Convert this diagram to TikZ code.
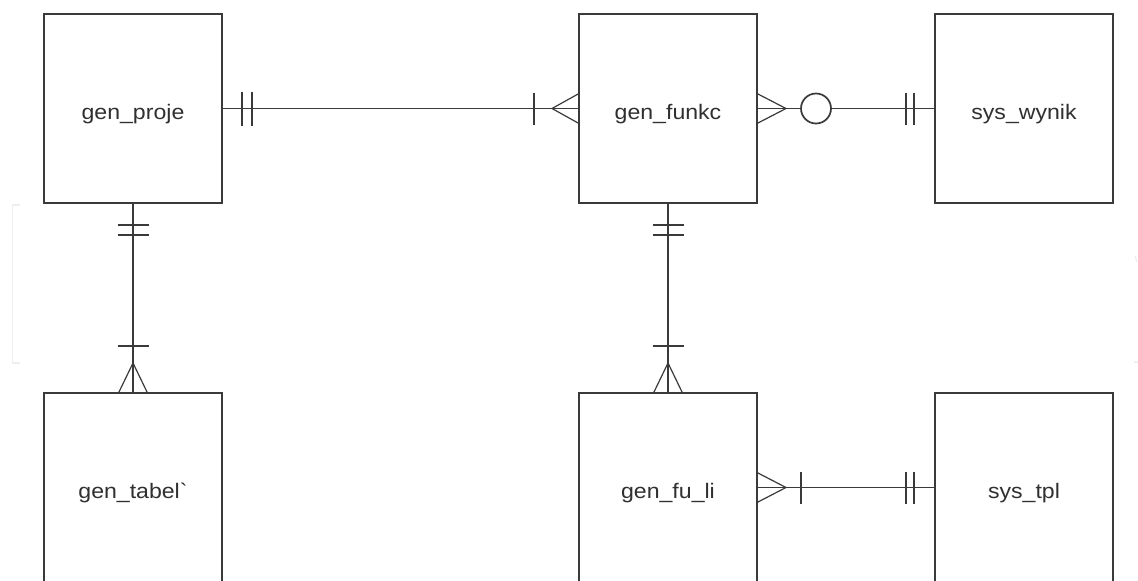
\documentclass[tikz,border=0pt]{standalone}
\usepackage{fontspec}
\setmainfont{Liberation Sans}
\usetikzlibrary{calc}
\definecolor{edge}{HTML}{3A3A3A}
\definecolor{txt}{HTML}{303030}
\definecolor{faint}{HTML}{EEEEEE}
\tikzset{
  entity/.style={draw=edge, line width=1.6pt, minimum width=178pt, minimum height=189pt, inner sep=0pt, outer sep=0pt},
  elabel/.style={anchor=base, text=txt, font=\fontsize{21}{24}\selectfont, inner sep=0pt, xscale=1.1},
  rel/.style={draw=edge, line width=1.6pt},
  mk/.style={draw=edge, line width=1.7pt},
  crow/.style={draw=edge, line width=1.2pt},
}
\begin{document}
\begin{tikzpicture}[x=1pt,y=-1pt]
\useasboundingbox (0,0) rectangle (1138,581);
\clip (0,0) rectangle (1138,581);
\fill[white] (0,0) rectangle (1138,581);
% faint background marks
\draw[faint, line width=1.2pt] (20,205) -- (12.5,205) -- (12.5,363) -- (20,363);
\draw[faint, line width=1.2pt] (1135,256) -- (1137,262);
\draw[faint, line width=1.2pt] (1134,362) -- (1138,362);
% entities
\node[entity] (proje) at (133,108.5) {};
\node[entity] (funkc) at (668,108.5) {};
\node[entity] (wynik) at (1024,108.5) {};
\node[entity] (tabel) at (133,487.5) {};
\node[entity] (fuli)  at (668,487.5) {};
\node[entity] (tpl)   at (1024,487.5) {};
\node[elabel] (lproje) at (133,119) {gen\_proje};
\node[elabel] (lfunkc) at (668,119) {gen\_funkc};
\node[elabel] (lwynik) at (1024,119) {sys\_wynik};
\node[elabel] (ltabel) at (133,498) {gen\_tabel\textasciigrave};
\node[elabel] (lfuli)  at (668,498) {gen\_fu\_li};
\node[elabel] (ltpl)   at (1024,498) {sys\_tpl};
% relationships
\draw[rel] (proje.east) -- (funkc.west);
\draw[rel] (funkc.east) -- (wynik.west);
\draw[rel] (proje.south) -- (tabel.north);
\draw[rel] (funkc.south) -- (fuli.north);
\draw[rel] (fuli.east) -- (tpl.west);
% proje -> funkc : one and only one / one or many
\draw[mk] ($(proje.east)+(20,-17)$) -- ++(0,34);
\draw[mk] ($(proje.east)+(30,-17)$) -- ++(0,34);
\draw[mk] ($(funkc.west)+(-45,-16)$) -- ++(0,32);
\draw[crow] ($(funkc.west)+(0,-15)$) -- ($(funkc.west)+(-27,0)$) -- ($(funkc.west)+(0,15)$);
% funkc -> wynik : zero or many / one and only one
\draw[crow] ($(funkc.east)+(0,-15)$) -- ($(funkc.east)+(29,0)$) -- ($(funkc.east)+(0,15)$);
\draw[mk, fill=white] ($(funkc.east)+(59,0)$) circle[radius=15];
\draw[mk] ($(wynik.west)+(-29,-16)$) -- ++(0,32);
\draw[mk] ($(wynik.west)+(-21,-16)$) -- ++(0,32);
% proje -> tabel
\draw[mk] ($(proje.south)+(-15.5,22)$) -- ++(31,0);
\draw[mk] ($(proje.south)+(-15.5,32)$) -- ++(31,0);
\draw[mk] ($(tabel.north)+(-15.5,-47)$) -- ++(31,0);
\draw[crow] ($(tabel.north)+(-14.5,0)$) -- ($(tabel.north)+(0,-30)$) -- ($(tabel.north)+(14.5,0)$);
% funkc -> fuli
\draw[mk] ($(funkc.south)+(-15.5,22)$) -- ++(31,0);
\draw[mk] ($(funkc.south)+(-15.5,32)$) -- ++(31,0);
\draw[mk] ($(fuli.north)+(-15.5,-47)$) -- ++(31,0);
\draw[crow] ($(fuli.north)+(-14.5,0)$) -- ($(fuli.north)+(0,-30)$) -- ($(fuli.north)+(14.5,0)$);
% fuli -> tpl
\draw[crow] ($(fuli.east)+(0,-15)$) -- ($(fuli.east)+(29,0)$) -- ($(fuli.east)+(0,15)$);
\draw[mk] ($(fuli.east)+(44,-16)$) -- ++(0,32);
\draw[mk] ($(tpl.west)+(-29,-16)$) -- ++(0,32);
\draw[mk] ($(tpl.west)+(-21,-16)$) -- ++(0,32);
\end{tikzpicture}
\end{document}
